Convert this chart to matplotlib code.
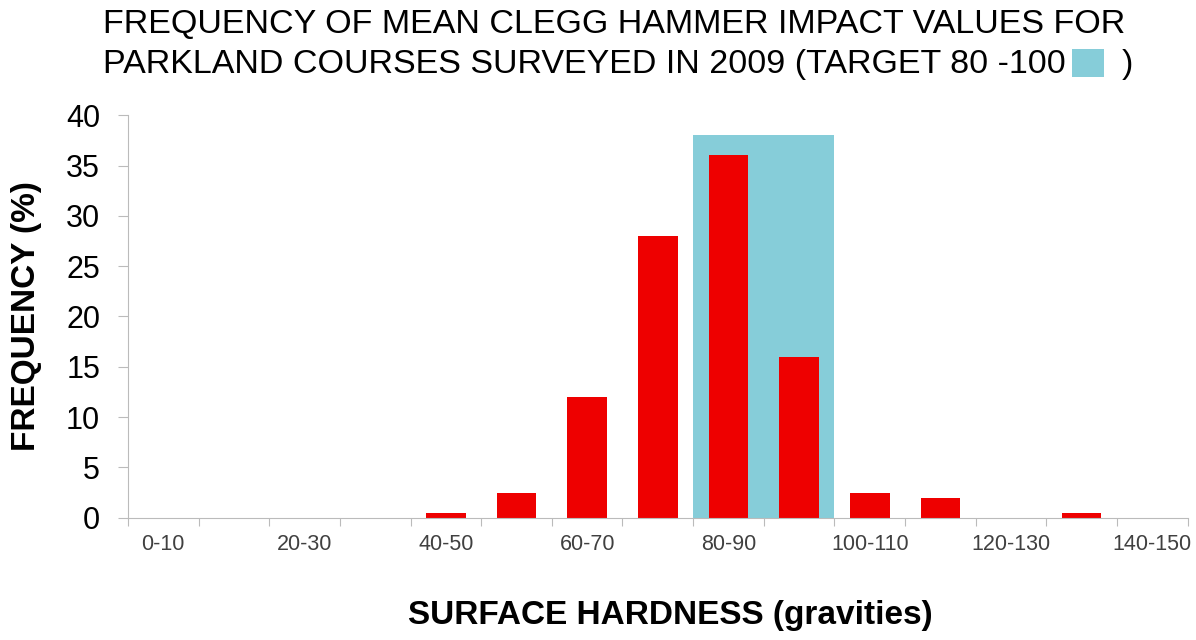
import matplotlib
matplotlib.use("Agg")
import matplotlib.pyplot as plt
from matplotlib.patches import Rectangle
import numpy as np

plt.rcParams['font.family'] = ['Liberation Sans', 'DejaVu Sans']

# hardness classes (gravities) and share of courses in each
categories = ['0-10', '10-20', '20-30', '30-40', '40-50', '50-60', '60-70', '70-80',
              '80-90', '90-100', '100-110', '110-120', '120-130', '130-140', '140-150']
frequency = [0, 0, 0, 0, 0.5, 2.5, 12, 28, 36, 16, 2.5, 2, 0, 0.5, 0]

# target band 80-100 gravities
target_start = 8
target_span = 2
target_height = 38

red = '#EE0000'
blue = '#86CDD9'
grey = '#BBBBBB'

W, H = 1196, 640
fig = plt.figure(figsize=(W / 100, H / 100), dpi=100)
ax = fig.add_axes([0.107, 0.191, 0.886, 0.629])

x = np.arange(len(categories))
ax.add_patch(Rectangle((target_start - 0.5, 0), target_span, target_height,
                       facecolor=blue, edgecolor='none', zorder=1))
ax.bar(x, frequency, width=0.56, color=red, zorder=2)

ax.set_xlim(-0.5, len(categories) - 0.5)
ax.set_ylim(0, 40)

# tick marks on class boundaries, labels on every other class centre
ax.set_xticks(np.arange(len(categories) + 1) - 0.5)
ax.set_xticklabels([])
ax.set_xticks(x[::2], minor=True)
ax.set_xticklabels(categories[::2], minor=True, fontsize=15.5, color='#404040')
ax.tick_params(axis='x', which='major', length=6, color=grey, direction='out')
ax.tick_params(axis='x', which='minor', length=0, pad=12)

ax.set_yticks(np.arange(0, 41, 5))
ax.tick_params(axis='y', length=7, color=grey, labelsize=22, pad=13)

for side in ['top', 'right']:
    ax.spines[side].set_visible(False)
for side in ['left', 'bottom']:
    ax.spines[side].set_color(grey)

ax.set_ylabel('FREQUENCY (%)', fontsize=24, fontweight='bold')
ax.yaxis.set_label_coords(-0.081, 0.5)
ax.set_xlabel('SURFACE HARDNESS (gravities)', fontsize=24, fontweight='bold')
ax.xaxis.set_label_coords(0.512, -0.205)

fig.text(103 / W, 1 - 33 / H, 'FREQUENCY OF MEAN CLEGG HAMMER IMPACT VALUES FOR',
         ha='left', va='baseline', fontsize=24.5)
line2 = fig.text(103 / W, 1 - 73 / H, 'PARKLAND COURSES SURVEYED IN 2009 (TARGET 80 -100',
                 ha='left', va='baseline', fontsize=24.5)

# small colour key after the target range
fig.canvas.draw()
bb = line2.get_window_extent().transformed(fig.transFigure.inverted())
key_x = bb.x1 + 6 / W
fig.patches.append(Rectangle((key_x, 1 - 77 / H), 32 / W, 28 / H,
                             facecolor=blue, edgecolor='none', transform=fig.transFigure))
fig.text(key_x + 50 / W, 1 - 73 / H, ')', ha='left', va='baseline', fontsize=24.5)

fig.savefig('out.png', dpi=100)
